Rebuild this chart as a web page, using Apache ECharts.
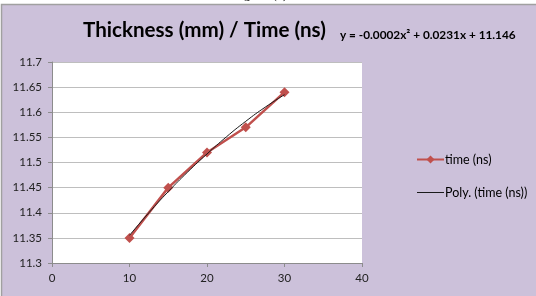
<!DOCTYPE html>
<html><head><meta charset="utf-8">
<script src="https://cdn.jsdelivr.net/npm/echarts@6/dist/echarts.min.js"></script>
<style>html,body{margin:0;padding:0;background:#fff}#c{width:536px;height:296px}</style>
</head><body><div id="c"></div>
<script>
// Data
var xValues = [10, 15, 20, 25, 30];
var timeValues = [11.35, 11.45, 11.52, 11.57, 11.64];
// Polynomial trendline as drawn in the picture (read at x = 10..30, step 2.5)
var trendX = [10, 12.5, 15, 17.5, 20, 22.5, 25, 27.5, 30];
var trendY = [11.355, 11.400, 11.442, 11.481, 11.517, 11.551, 11.582, 11.610, 11.635];
var xTicks = [0, 10, 20, 30, 40];
var yTicks = [11.3, 11.35, 11.4, 11.45, 11.5, 11.55, 11.6, 11.65, 11.7];
var titleText = 'Thickness (mm) / Time (ns)';
var equationText = 'y = -0.0002x\u00B2 + 0.0231x + 11.146';
var seriesName = 'time (ns)';
var trendName = 'Poly. (time (ns))';

var chart = echarts.init(document.getElementById('c'), null, {renderer: 'canvas'});
var font = 'Lato, "Open Sans", sans-serif';
chart.setOption({
  backgroundColor: '#ffffff',
  animation: false,
  textStyle: {fontFamily: font},
  graphic: [
    {type: 'rect', z: -10, shape: {x: 1.5, y: 4.5, width: 540, height: 300},
     style: {fill: '#CCC1DA', stroke: '#A0A0A0', lineWidth: 1.5}},
    {type: 'text', z: -5, left: 232, top: -13,
     style: {text: 'Figure (a).', font: '14px "Liberation Serif", serif', fill: '#000'}},
    {type: 'text', left: 83, top: 20,
     style: {text: titleText, font: 'bold 20.6px ' + font, fill: '#000'}},
    {type: 'text', left: 340, top: 29,
     style: {text: equationText, font: 'bold 11.8px ' + font, fill: '#000'}}
  ],
  grid: {left: 52, top: 62, right: 174, bottom: 33, show: true,
         backgroundColor: '#ffffff', borderWidth: 0},
  legend: {
    orient: 'vertical', left: 411, top: 148, itemWidth: 27, itemHeight: 10,
    itemGap: 20, textStyle: {fontSize: 12.5, color: '#000', fontFamily: font, padding: [0,0,0,-4]},
    data: [
      {name: seriesName},
      {name: trendName, icon: 'path://M0,4.5h27v1h-27z'}
    ]
  },
  xAxis: {
    type: 'value', min: 0, max: 40, interval: 10,
    axisLine: {show: true, onZero: false, lineStyle: {color: '#8C8C8C', width: 1}},
    axisTick: {show: true, length: 4, lineStyle: {color: '#8C8C8C'}},
    axisLabel: {color: '#222', fontSize: 11.5, margin: 9, fontFamily: font},
    splitLine: {show: false}
  },
  yAxis: {
    type: 'value', min: 11.3, max: 11.7, interval: 0.05,
    axisLine: {show: true, lineStyle: {color: '#8C8C8C', width: 1}},
    axisTick: {show: true, length: 4, lineStyle: {color: '#8C8C8C'}},
    axisLabel: {color: '#222', fontSize: 11.5, margin: 10, fontFamily: font,
      formatter: function (v) { return String(+v.toFixed(2)); }},
    splitLine: {show: true, lineStyle: {color: '#BEBEBE', width: 1}}
  },
  series: [
    {
      name: trendName, type: 'line', smooth: true, symbol: 'none', z: 3,
      lineStyle: {color: '#1a1a1a', width: 1},
      itemStyle: {color: '#1a1a1a'},
      data: trendX.map(function (x, i) { return [x, trendY[i]]; })
    },
    {
      name: seriesName, type: 'line', symbol: 'diamond', symbolSize: 10, z: 2,
      lineStyle: {color: '#C0504D', width: 2.5},
      itemStyle: {color: '#C0504D'},
      data: xValues.map(function (x, i) { return [x, timeValues[i]]; })
    }
  ]
});
</script></body></html>
